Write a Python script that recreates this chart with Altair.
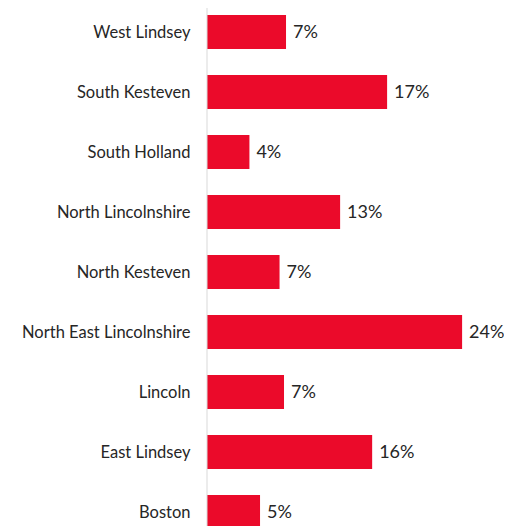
import altair as alt
import pandas as pd

areas = ["West Lindsey", "South Kesteven", "South Holland", "North Lincolnshire",
         "North Kesteven", "North East Lincolnshire", "Lincoln", "East Lindsey", "Boston"]
values = [7.45, 16.98, 4.0, 12.55, 6.84, 24.05, 7.26, 15.57, 5.0]

df = pd.DataFrame({"area": areas, "value": values})

FONT = "Lato"
RED = "#EB0A2A"

y_enc = alt.Y("area:N", sort=areas, title=None,
              scale=alt.Scale(paddingInner=0.433, paddingOuter=0.117),
              axis=alt.Axis(domain=False, ticks=False, labelPadding=17,
                            labelFont=FONT, labelFontSize=16.5, labelColor="#262626",
                            labelLimit=300, labelBaseline="middle", labelOffset=1))
x_enc = alt.X("value:Q", scale=alt.Scale(domain=[0, 28]), axis=None)

base = alt.Chart(df)

bars = base.mark_bar(color=RED).encode(x=x_enc, y=y_enc)

labels = base.transform_calculate(
    label="format(datum.value, '.0f') + '%'"
).mark_text(align="left", baseline="middle", dx=7, dy=1, font=FONT, fontSize=18,
            color="#262626").encode(x=x_enc, y=y_enc, text="label:N")

axis_line = alt.Chart(pd.DataFrame({"v": [0]})).mark_rule(color="#d9d9d9", strokeWidth=1).encode(
    x=alt.X("v:Q", scale=alt.Scale(domain=[0, 28])),
    y=alt.value(-8), y2=alt.value(528))

chart = alt.layer(bars, labels, axis_line).properties(
    width=297, height=528,
    autosize=alt.AutoSizeParams(type="none"),
    padding={"left": 199, "top": 0, "right": 0, "bottom": 0},
).configure_view(stroke=None)

chart.save("out.html", embed_options={"renderer": "svg", "actions": False})
